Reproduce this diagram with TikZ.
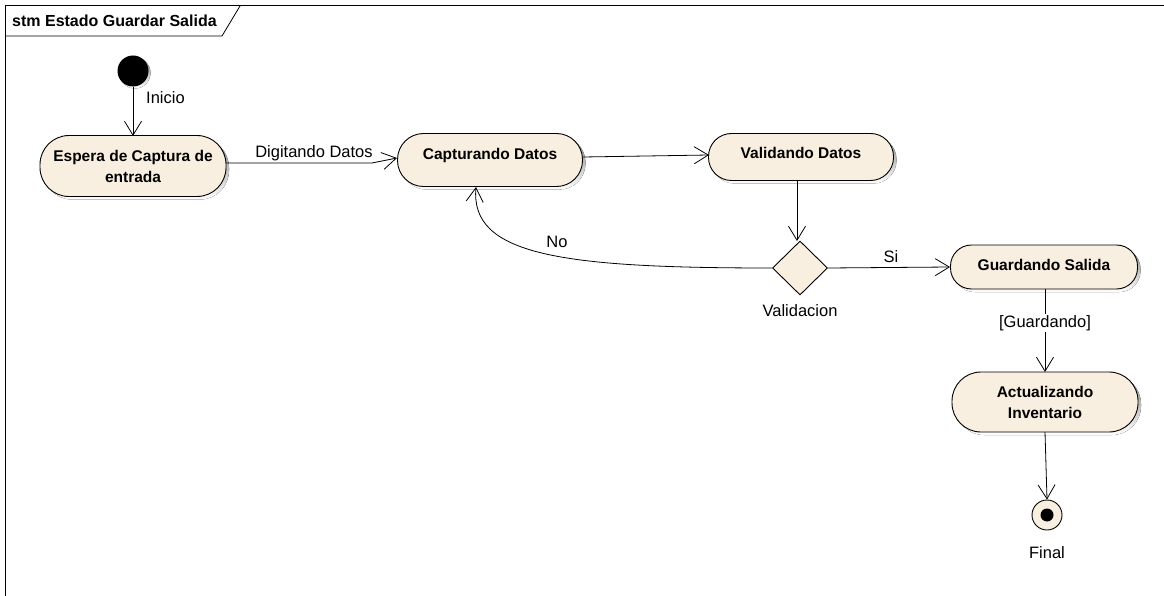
\documentclass[tikz,border=0pt]{standalone}
\usepackage{fontspec}
\setmainfont{Liberation Sans}
\usetikzlibrary{arrows.meta,shapes.geometric,calc}
\definecolor{statefill}{RGB}{248,239,224}
\definecolor{shade}{RGB}{170,170,170}
\tikzset{
  statebox/.style={draw=black, line width=0.9pt, fill=statefill, rounded corners=#1,
    align=center, font=\fontsize{15.5}{21}\selectfont\bfseries, inner sep=0pt},
  statebox/.default=22pt,
  flow/.style={draw=black, line width=0.8pt, -{Straight Barb[length=14pt,width=17pt,line width=0.8pt]}},
  lbl/.style={font=\fontsize{16.5}{20}\selectfont, inner sep=1pt},
  decision/.style={diamond, draw=black, line width=0.9pt, fill=statefill, minimum width=55pt, minimum height=54pt, inner sep=0pt}
}
\begin{document}
\begin{tikzpicture}[x=1pt,y=-1pt]
\useasboundingbox (0,0) rectangle (1164,596);
\fill[white] (0,0) rectangle (1164,596);
% frame
\draw[line width=1pt] (5,596) -- (5,6) -- (1164,6);
\draw[line width=0.8pt] (5,36) -- (222,36) -- (240,6);
\node[anchor=west, font=\fontsize{16}{19}\selectfont\bfseries, inner sep=0pt] (title) at (12,21) {stm Estado Guardar Salida};

% shadows
\foreach \cx/\cy/\w/\h/\r in {133/166/186/61/29, 490/160/185/53/26, 801/157/185/47/23, 1044/267/187/44/21, 1045/402/186/60/29}{
  \fill[shade] ({\cx-\w/2+3},{\cy-\h/2+3}) [rounded corners=\r pt] rectangle ({\cx+\w/2+3},{\cy+\h/2+3});
}

% states
\node[statebox=29pt, minimum width=186pt, minimum height=61pt] (espera) at (133,166) {Espera de Captura de\\entrada};
\node[statebox=26pt, minimum width=185pt, minimum height=53pt] (captura) at (490,160) {\raisebox{12pt}{Capturando Datos}};
\node[statebox=23pt, minimum width=185pt, minimum height=47pt] (valida) at (801,157) {\raisebox{9pt}{Validando Datos}};
\node[decision] (dec) at (800,268) {};
\node[statebox=21pt, minimum width=187pt, minimum height=44pt] (guarda) at (1044,267) {\raisebox{5pt}{Guardando Salida}};
\node[statebox=29pt, minimum width=186pt, minimum height=60pt] (actual) at (1045,402) {Actualizando\\Inventario};

% initial and final pseudostates
\fill[shade] (135,73) circle (15.5);
\node[circle, fill=black, minimum size=31pt, inner sep=0pt] (ini) at (133,71) {};
\node[circle, draw=black, line width=0.9pt, fill=statefill, minimum size=30pt, inner sep=0pt] (fin) at (1047,515) {};
\node[circle, fill=black, minimum size=13pt, inner sep=0pt] (finDot) at (1047,515) {};

% transitions
\draw[flow] (ini) -- (133,136);
\node[lbl, anchor=west] (lini) at (145,98) {Inicio};

\draw[flow] (espera.east |- 0,163) -- (372,163) -- (397,158);
\node[lbl] (ldig) at (314,153) {Digitando Datos};

\draw[flow] (583,157) -- (709,155);

\draw[flow] (797,181) -- (797,241);

\draw[flow] (dec.west) .. controls (560,268) and (470,255) .. (476,187);
\node[lbl] (lno) at (557,242) {No};

\draw[flow] (dec.east) -- (950,267);
\node[lbl] (lsi) at (891,257) {Si};

\draw[flow] (1045,289) -- (1045,372);
\node[lbl, fill=white] (lguard) at (1045,323) {[Guardando]};

\draw[flow] (1045,432) -- (fin.north);

\node[lbl] (lval) at (800,311) {Validacion};
\node[lbl] (lfin) at (1047,553) {Final};
\end{tikzpicture}
\end{document}
